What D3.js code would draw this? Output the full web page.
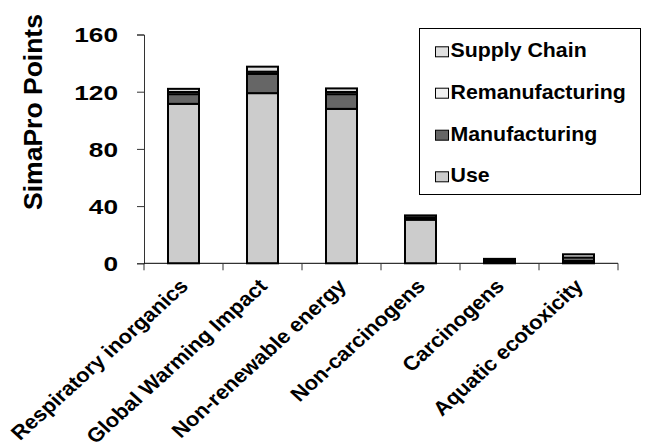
<!DOCTYPE html>
<html>
<head>
<meta charset="utf-8">
<script src="https://cdn.jsdelivr.net/npm/d3@7"></script>
<style>
  html, body { margin: 0; padding: 0; background: #fff; }
  text { font-family: "Liberation Sans", Arial, sans-serif; font-weight: bold; fill: #000; }
</style>
</head>
<body>
<svg id="chart" width="649" height="445"></svg>
<script>
// ---- data ----
const categories = ["Respiratory inorganics", "Global Warming Impact", "Non-renewable energy",
                    "Non-carcinogens", "Carcinogens", "Aquatic ecotoxicity"];
const seriesNames = ["Use", "Manufacturing", "Remanufacturing", "Supply Chain"];
const useValues = [111.5, 119, 108, 30.5, 0.8, 0.8];
const manufacturingValues = [6.8, 13.5, 10.3, 1, 0.8, 1.2];
const remanufacturingValues = [1.5, 1.5, 1.5, 0.5, 0.5, 2];
const supplyChainValues = [2.2, 3.5, 2.5, 1.5, 1, 2.3];
const yTicks = [0, 40, 80, 120, 160];
const legendOrder = ["Supply Chain", "Remanufacturing", "Manufacturing", "Use"];

// ---- build table ----
const rows = categories.map((c, i) => ({
  category: c,
  "Use": useValues[i],
  "Manufacturing": manufacturingValues[i],
  "Remanufacturing": remanufacturingValues[i],
  "Supply Chain": supplyChainValues[i]
}));
const colors = {
  "Use": "#cccccc",
  "Manufacturing": "#666666",
  "Remanufacturing": "#f0f0f0",
  "Supply Chain": "#e0e0e0"
};

const svg = d3.select("#chart");
const x0 = 144, x1 = 618, yTop = 34.5, yBottom = 263.3;

const x = d3.scaleBand().domain(categories).range([x0, x1]).paddingInner(0).paddingOuter(0);
const y = d3.scaleLinear().domain([0, 160]).range([yBottom, yTop]);

const stack = d3.stack().keys(seriesNames)(rows);
const barW = 31;

// bars
svg.append("g").selectAll("g").data(stack).join("g")
  .attr("fill", d => colors[d.key])
  .selectAll("rect").data(d => d).join("rect")
  .attr("x", d => x(d.data.category) + x.bandwidth() / 2 - barW / 2)
  .attr("y", d => y(d[1]))
  .attr("width", barW)
  .attr("height", d => y(d[0]) - y(d[1]))
  .attr("stroke", "#000")
  .attr("stroke-width", 2);

// y axis
const yAxis = svg.append("g").attr("transform", `translate(${x0},0)`)
  .call(d3.axisLeft(y).tickValues(yTicks).tickSize(7).tickPadding(19).tickFormat(d3.format("d")));
yAxis.select(".domain").attr("stroke", "#333").attr("stroke-width", 1);
yAxis.selectAll(".tick line").attr("stroke", "#333");
yAxis.selectAll(".tick text").style("font-size", "20.5px").attr("dy", "0.36em");
yAxis.selectAll(".tick text").each(function() {
  const n = this.getComputedTextLength();
  d3.select(this).attr("textLength", n * 1.28).attr("lengthAdjust", "spacingAndGlyphs");
});

// x axis
const xAxis = svg.append("g").attr("transform", `translate(0,${yBottom})`);
xAxis.append("line").attr("x1", x0).attr("x2", x1).attr("stroke", "#000").attr("stroke-width", 1);
const boundaries = categories.map(c => x(c)).concat([x(categories[categories.length - 1]) + x.bandwidth()]);
xAxis.selectAll(".tk").data(boundaries).join("line").attr("class", "tk")
  .attr("x1", d => d).attr("x2", d => d).attr("y1", 0).attr("y2", 7)
  .attr("stroke", "#333").attr("stroke-width", 1);
xAxis.selectAll(".lbl").data(categories).join("text").attr("class", "lbl")
  .attr("transform", d => `translate(${x(d) + x.bandwidth() / 2 + 6},${24}) scale(1.1,1) rotate(-45)`)
  .attr("text-anchor", "end")
  .style("font-size", "20px")
  .text(d => d);

// y title
svg.append("text")
  .attr("transform", "translate(42,112) rotate(-90)")
  .attr("text-anchor", "middle")
  .style("font-size", "26.5px")
  .text("SimaPro Points");

// legend
const lg = svg.append("g");
lg.append("rect").attr("x", 419.5).attr("y", 28.5).attr("width", 221).attr("height", 166)
  .attr("fill", "#fff").attr("stroke", "#000").attr("stroke-width", 1);
const baselines = [57.3, 98.7, 140.7, 182.3];
legendOrder.forEach((k, i) => {
  lg.append("rect").attr("x", 435.5).attr("y", baselines[i] - 10.5).attr("width", 13).attr("height", 10)
    .attr("fill", colors[k]).attr("stroke", "#000").attr("stroke-width", 1);
  const t = lg.append("text").attr("x", 450.5).attr("y", baselines[i]).style("font-size", "20.4px").text(k);
  const n = t.node().getComputedTextLength();
  t.attr("textLength", n * 1.045).attr("lengthAdjust", "spacingAndGlyphs");
});
</script>
</body>
</html>
